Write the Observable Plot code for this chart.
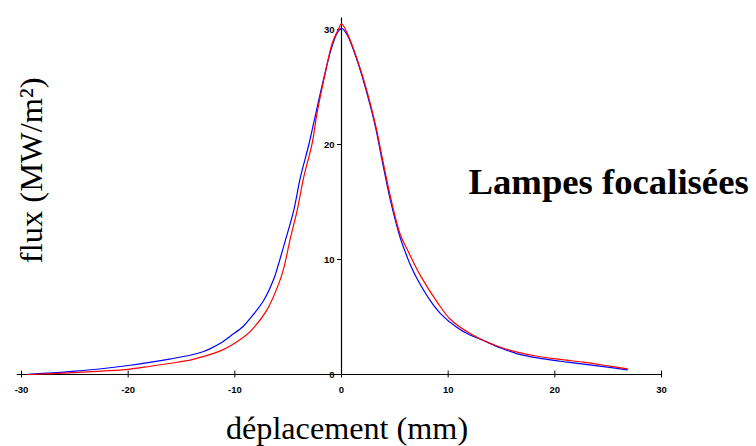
<!DOCTYPE html>
<html>
<head>
<meta charset="utf-8">
<script src="https://cdn.jsdelivr.net/npm/d3@7"></script>
<script src="https://cdn.jsdelivr.net/npm/@observablehq/plot@0.6"></script>
<style>
  html, body { margin: 0; padding: 0; background: #fff; }
</style>
</head>
<body>
<div id="chart"></div>
<script>
// Tick values
const xTicks = [-30, -20, -10, 0, 10, 20, 30];
const yTicks = [0, 10, 20, 30];

// Blue series (déplacement mm, flux MW/m²)
const blueX = [-29.4, -27, -25, -22.5, -20, -18, -16, -14, -13, -12.3, -11.2, -10.4, -9.2, -8.5, -7.3, -6.35, -6.0, -5.25, -4.47, -3.84, -3.06, -2.6, -1.8, -1.03, -0.4, 0, 0.5, 1.47, 2.4, 3.19, 3.81, 4.6, 5.5, 6.0, 6.47, 7.1, 8.34, 9.28, 10.8, 12, 13.3, 14.8, 16.5, 18.8, 21.2, 24, 26.8];
const blueY = [0.02, 0.15, 0.29, 0.5, 0.78, 1.05, 1.36, 1.72, 1.98, 2.25, 2.8, 3.35, 4.2, 4.95, 6.43, 8.3, 9.3, 11.7, 14.3, 17.2, 20.0, 21.9, 25.2, 28.1, 29.7, 30.1, 29.6, 27.3, 24.4, 21.5, 18.6, 15.1, 11.9, 10.6, 9.5, 8.3, 6.4, 5.3, 4.1, 3.45, 2.96, 2.35, 1.8, 1.38, 1.07, 0.75, 0.41];

// Red series
const redX = [-29.4, -27, -25, -22.5, -20, -17.9, -16, -14, -12.3, -11.3, -10.4, -9.4, -8.5, -7.0, -5.88, -5.4, -4.78, -4.15, -3.53, -2.75, -2.28, -1.5, -0.87, -0.3, 0, 0.53, 1.47, 2.4, 3.19, 3.81, 4.6, 5.5, 6.2, 6.78, 7.4, 8.97, 10.2, 12.1, 14.9, 18, 20.3, 22.7, 24.8, 26.8];
const redY = [0.0, 0.08, 0.17, 0.3, 0.45, 0.72, 0.98, 1.3, 1.75, 2.08, 2.5, 3.1, 3.8, 5.6, 7.9, 9.3, 11.9, 14.3, 17.2, 20.1, 22.8, 26.3, 28.8, 30.0, 30.5, 29.7, 27.4, 24.6, 21.7, 18.9, 15.4, 12.2, 10.8, 9.7, 8.6, 6.3, 4.8, 3.54, 2.37, 1.65, 1.33, 1.07, 0.78, 0.49];

const titleText = "Lampes focalisées";
const xLabel = "déplacement (mm)";
const yLabel = "flux (MW/m²)";

const blue = blueX.map((x, i) => ({x, y: blueY[i]}));
const red = redX.map((x, i) => ({x, y: redY[i]}));

const sans = "'Liberation Sans', Arial, sans-serif";
const serif = "'Liberation Serif', 'Times New Roman', serif";

const chart = Plot.plot({
  width: 756,
  height: 446,
  marginLeft: 21,
  marginRight: 95,
  marginTop: 17.5,
  marginBottom: 72,
  style: {background: "white"},
  x: {domain: [-30, 30], axis: null},
  y: {domain: [0, 31], axis: null},
  marks: [
    // axes lines
    Plot.ruleY([0], {x1: -30.4, x2: 30, stroke: "black", strokeWidth: 1}),
    Plot.ruleX([0], {y1: 0, y2: 31, stroke: "black", strokeWidth: 1.2}),
    // x ticks crossing the axis
    Plot.ruleX(xTicks, {x: d => d, y1: -0.3, y2: 0.3, stroke: "black", strokeWidth: 1}),
    // y ticks to the left of the axis
    Plot.ruleY(yTicks, {y: d => d, x1: -0.38, x2: 0, stroke: "black", strokeWidth: 1}),
    // tick labels
    Plot.text(xTicks, {x: d => d, y: 0, text: d => String(d), dy: 15, fontSize: 9.5, fontWeight: "bold", fontFamily: sans, fill: "black"}),
    Plot.text(yTicks, {x: 0, y: d => d, text: d => String(d), dx: -7, textAnchor: "end", fontSize: 9.5, fontWeight: "bold", fontFamily: sans, fill: "black"}),
    // curves
    Plot.line(blue, {x: "x", y: "y", stroke: "#0000ff", strokeWidth: 1.2, curve: "catmull-rom"}),
    Plot.line(red, {x: "x", y: "y", stroke: "#ff0000", strokeWidth: 1.2, curve: "catmull-rom"}),
    // annotation
    Plot.text([titleText], {frameAnchor: "top-left", dx: 447, dy: 175.5, textAnchor: "start", lineAnchor: "bottom", fontSize: 36.7, fontWeight: "bold", fontFamily: serif, fill: "black"}),
    // axis titles
    Plot.text([xLabel], {frameAnchor: "bottom", dx: 5.5, dy: 64, textAnchor: "middle", lineAnchor: "bottom", fontSize: 32.2, fontFamily: serif, fill: "black"}),
    Plot.text([yLabel], {frameAnchor: "left", dx: 10, dy: -26, rotate: -90, textAnchor: "middle", lineAnchor: "middle", fontSize: 32.5, fontFamily: serif, fill: "black"})
  ]
});
document.getElementById("chart").appendChild(chart);
</script>
</body>
</html>
